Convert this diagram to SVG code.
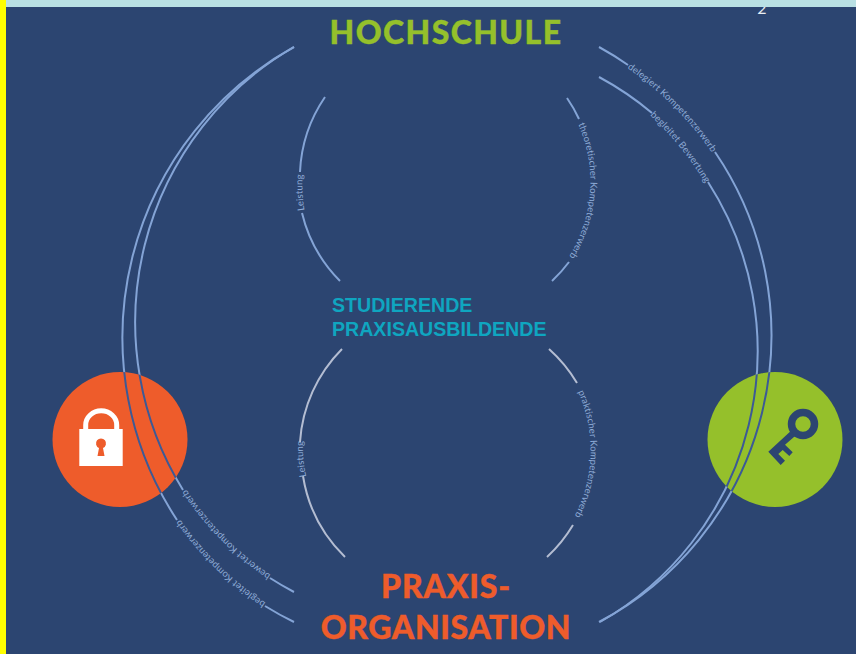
<svg xmlns="http://www.w3.org/2000/svg" width="856" height="654" viewBox="0 0 856 654">
<style>
.arc{fill:none;stroke:#84a4d6;stroke-width:2}
.grey{fill:none;stroke:#b4bdd2;stroke-width:2}
.navy{fill:none;stroke:#3c5a96;stroke-width:2}
.lbl{font-family:Lato,"Open Sans",sans-serif;font-size:9.5px;fill:#8eabd6;letter-spacing:.2px}
.title{font-family:Lato,"Open Sans",sans-serif;font-weight:900;font-size:32px;stroke-width:.4px}
.stud{font-family:"Liberation Sans",Arial,sans-serif;font-weight:700;font-size:19.6px;fill:#0fa6c0}
</style>
<defs>
<path id="l1" d="M177 520A332 332 0 0 1 294 47"/>
<path id="l2" d="M183 490A318 318 0 0 1 294 47"/>
<path id="r1" d="M715 152A325 325 0 0 1 599 622"/>
<path id="r2" d="M708 182A312 312 0 0 1 600 622"/>
<path id="tp1" d="M628 65A325 325 0 0 1 715 152"/>
<path id="tp2" d="M652 113A312 312 0 0 1 708 182"/>
<path id="tp3" d="M265 606A325 325 0 0 1 177 520"/>
<path id="tp4" d="M270 578A311 311 0 0 1 183 490"/>
<path id="tp5" d="M302 213A144 144 0 0 1 300 172"/>
<path id="tp6" d="M303 476A145 145 0 0 1 300 442"/>
<path id="tp7" d="M579 119A144 144 0 0 1 569 262"/>
<path id="tp8" d="M577 383A145 145 0 0 1 573 525"/>
<clipPath id="cl"><circle cx="120" cy="439.5" r="67.5"/></clipPath>
<clipPath id="cr"><circle cx="775" cy="439.5" r="67.5"/></clipPath>
</defs>
<rect width="856" height="654" fill="#2c4571"/>
<text x="762" y="14" text-anchor="middle" font-family="Lato,sans-serif" font-size="16" fill="#e8edf2">2</text>
<rect width="856" height="7" fill="#b9e0e4"/>
<rect width="6" height="654" fill="#ffff00"/>
<g id="connectors">
<use href="#l1" class="arc"/><use href="#l2" class="arc"/><use href="#r1" class="arc"/><use href="#r2" class="arc"/>
<path class="arc" d="M294 622A325 325 0 0 1 265 606M294 592A311 311 0 0 1 270 578M599 47A325 325 0 0 1 628 65M599 77A312 312 0 0 1 652 113"/>
<path class="arc" d="M325 97A144 144 0 0 0 300 172M302 213A144 144 0 0 0 340 281M567 98A144 144 0 0 1 579 119M569 262A144 144 0 0 1 552 281"/>
<path class="grey" d="M342 349A145 145 0 0 0 300 442M303 476A145 145 0 0 0 345 557M549 349A145 145 0 0 1 577 383M573 525A145 145 0 0 1 547 557"/>
<g class="lbl">
<text dy="3"><textPath href="#tp1" startOffset="50%" text-anchor="middle">delegiert Kompetenzerwerb</textPath></text>
<text dy="3"><textPath href="#tp2" startOffset="50%" text-anchor="middle">begleitet Bewertung</textPath></text>
<text dy="3"><textPath href="#tp3" startOffset="50%" text-anchor="middle">begleitet Kompetenzerwerb</textPath></text>
<text dy="3"><textPath href="#tp4" startOffset="50%" text-anchor="middle">bewertet Kompetenzerwerb</textPath></text>
<text dy="3"><textPath href="#tp5" startOffset="50%" text-anchor="middle">Leistung</textPath></text>
<text dy="3"><textPath href="#tp6" startOffset="50%" text-anchor="middle">Leistung</textPath></text>
<text dy="3"><textPath href="#tp7" startOffset="50%" text-anchor="middle">theoretischer Kompetenzerwerb</textPath></text>
<text dy="3"><textPath href="#tp8" startOffset="50%" text-anchor="middle">praktischer Kompetenzerwerb</textPath></text>
</g>
</g>
<g id="lock">
<circle cx="120" cy="439.5" r="67.5" fill="#ee5c2b"/>
<path d="M85.7 432V425A15.3 14 0 0 1 116.7 425V432" fill="none" stroke="#fff" stroke-width="5"/>
<rect x="79.3" y="429" width="43.4" height="37" fill="#fff"/>
<path d="M97.5 456L99 448A5 5 0 1 1 103 448L104.5 456Z" fill="#ee5c2b"/>
</g>
<g id="key">
<circle cx="775" cy="439.5" r="67.5" fill="#95c02b"/>
<circle cx="803" cy="424" r="11.5" fill="none" stroke="#2c4571" stroke-width="7.5"/>
<polygon points="790,431.7 768.3,451.7 780.7,465 785,460.7 778.3,454 782.7,450 789.3,456 792.7,452.3 785,444.7 796,435.3" fill="#2c4571"/>
</g>
<g id="overlay">
<g clip-path="url(#cl)"><use href="#l1" class="navy"/><use href="#l2" class="navy"/></g>
<g clip-path="url(#cr)"><use href="#r1" class="navy"/><use href="#r2" class="navy"/></g>
</g>
<g id="hochschule"><text class="title" x="446" y="44" text-anchor="middle" fill="#95c02b" stroke="#95c02b" letter-spacing="1.4">HOCHSCHULE</text></g>
<g id="praxis"><text class="title" x="446" y="598" text-anchor="middle" fill="#ee5c2b" stroke="#ee5c2b" letter-spacing=".8">PRAXIS-</text><text class="title" x="446" y="639" text-anchor="middle" fill="#ee5c2b" stroke="#ee5c2b" letter-spacing=".6">ORGANISATION</text></g>
<g id="studierende"><text class="stud" x="332" y="312">STUDIERENDE</text><text class="stud" x="332" y="336">PRAXISAUSBILDENDE</text></g>
</svg>
